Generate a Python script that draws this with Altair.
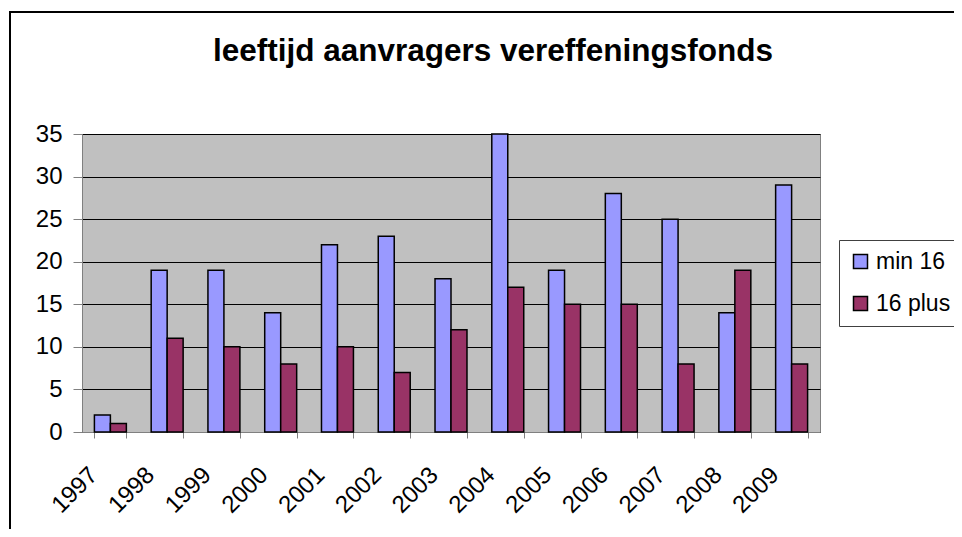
import altair as alt
import pandas as pd

title_text = "leeftijd aanvragers vereffeningsfonds"
years = ["1997", "1998", "1999", "2000", "2001", "2002", "2003",
         "2004", "2005", "2006", "2007", "2008", "2009"]
min16 = [2, 19, 19, 14, 22, 23, 18, 35, 19, 28, 25, 14, 29]
plus16 = [1, 11, 10, 8, 10, 7, 12, 17, 15, 15, 8, 19, 8]
series = ["min 16", "16 plus"]
colors = ["#9999FF", "#993366"]

rows = []
for y, a, b in zip(years, min16, plus16):
    rows.append({"jaar": y, "reeks": series[0], "aantal": a})
    rows.append({"jaar": y, "reeks": series[1], "aantal": b})
df = pd.DataFrame(rows)

FONT = "Liberation Sans"
one = pd.DataFrame({"d": [0]})

frame = alt.Chart(one).mark_rect(
    fill="white", fillOpacity=0, stroke="black", strokeWidth=2
).encode(
    x=alt.value(-72), x2=alt.value(1000),
    y=alt.value(-122), y2=alt.value(600)
)

title = alt.Chart(one).mark_text(
    text=title_text, font=FONT, fontSize=31.5, fontWeight="bold",
    color="black", align="center", baseline="alphabetic"
).encode(x=alt.value(411), y=alt.value(-73))

bars = alt.Chart(df).mark_bar(stroke="black", strokeWidth=1.5).encode(
    x=alt.X("jaar:N", sort=years, title=None,
            scale=alt.Scale(paddingInner=0.437, paddingOuter=0.2185),
            axis=alt.Axis(labelAngle=-45, labelFontSize=24, labelFont=FONT,
                          labelColor="black", labelAlign="right",
                          labelBaseline="alphabetic", labelOffset=-12,
                          tickBand="extent", tickSize=6,
                          tickColor="#808080", domainColor="#808080",
                          labelPadding=38, grid=False)),
    xOffset=alt.XOffset("reeks:N", sort=series),
    y=alt.Y("aantal:Q", title=None,
            scale=alt.Scale(domain=[0, 35], nice=False),
            axis=alt.Axis(values=[0, 5, 10, 15, 20, 25, 30, 35],
                          labelFontSize=24, labelFont=FONT, labelColor="black",
                          tickSize=9, tickColor="#808080", domainColor="#808080",
                          labelPadding=11, gridColor="black", gridWidth=1)),
    color=alt.Color("reeks:N", sort=series,
                    scale=alt.Scale(domain=series, range=colors),
                    legend=alt.Legend(title=None, orient="none", legendX=757,
                                      legendY=106, labelFontSize=23,
                                      labelFont=FONT, labelColor="black",
                                      symbolType="square", symbolSize=196,
                                      symbolStrokeColor="black",
                                      symbolStrokeWidth=1.5, symbolOpacity=1,
                                      strokeColor="#404040", padding=10,
                                      rowPadding=18, labelOffset=4,
                                      fillColor="white"))
)

chart = alt.layer(frame, title, bars).properties(
    width=738, height=298,
    autosize=alt.AutoSizeParams(type="none"),
    padding={"left": 74, "top": 126, "right": 134, "bottom": 97}
).configure_view(fill="#C0C0C0", stroke="#808080", strokeWidth=1)

chart.save("out.html", embed_options={"renderer": "svg", "actions": False})
